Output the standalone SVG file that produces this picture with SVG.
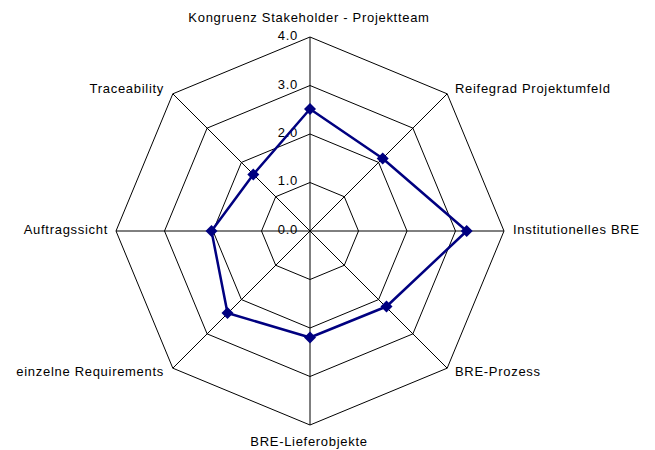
<svg xmlns="http://www.w3.org/2000/svg" width="655" height="450" viewBox="0 0 655 450">
<style>
.grid{fill:none;stroke:#000;stroke-width:1}
.ax{stroke:#000;stroke-width:1}
.ser{fill:none;stroke:#000080;stroke-width:2.5;stroke-linejoin:round}
.mk{fill:#000080}
text{font-family:"Liberation Sans",Arial,sans-serif;font-size:13px;fill:#000;letter-spacing:0.7px}
.tick{text-anchor:end}
</style>
<defs>
<polygon id="dia" points="0,-6 6,0 0,6 -6,0"/>
</defs>
<rect width="655" height="450" fill="#fff"/>
<g id="grid">
<polygon class="grid" points="310,182.5 344.29,196.71 358.5,231 344.29,265.29 310,279.5 275.71,265.29 261.5,231 275.71,196.71"/>
<polygon class="grid" points="310,134 378.59,162.41 407,231 378.59,299.59 310,328 241.41,299.59 213,231 241.41,162.41"/>
<polygon class="grid" points="310,85.5 412.88,128.12 455.5,231 412.88,333.88 310,376.5 207.12,333.88 164.5,231 207.12,128.12"/>
<polygon class="grid" points="310,37 447.18,93.82 504,231 447.18,368.18 310,425 172.82,368.18 116,231 172.82,93.82"/>
</g>
<g id="connectors">
<line class="ax" x1="310" y1="231" x2="310" y2="37"/>
<line class="ax" x1="310" y1="231" x2="447.18" y2="93.82"/>
<line class="ax" x1="310" y1="231" x2="504" y2="231"/>
<line class="ax" x1="310" y1="231" x2="447.18" y2="368.18"/>
<line class="ax" x1="310" y1="231" x2="310" y2="425"/>
<line class="ax" x1="310" y1="231" x2="172.82" y2="368.18"/>
<line class="ax" x1="310" y1="231" x2="116" y2="231"/>
<line class="ax" x1="310" y1="231" x2="172.82" y2="93.82"/>
</g>
<g id="ticks">
<text class="tick" x="298" y="40">4.0</text>
<text class="tick" x="298" y="89">3.0</text>
<text class="tick" x="298" y="137">2.0</text>
<text class="tick" x="298" y="185">1.0</text>
<text class="tick" x="298" y="234">0.0</text>
</g>
<g id="series">
<polygon class="ser" points="310,109 382.7,158.5 466.7,231 386.5,306.5 310,337.5 227.5,313 211.5,231 253.3,174.5"/>
<use href="#dia" class="mk" x="310" y="109"/>
<use href="#dia" class="mk" x="382.7" y="158.5"/>
<use href="#dia" class="mk" x="466.7" y="231"/>
<use href="#dia" class="mk" x="386.5" y="306.5"/>
<use href="#dia" class="mk" x="310" y="337.5"/>
<use href="#dia" class="mk" x="227.5" y="313"/>
<use href="#dia" class="mk" x="211.5" y="231"/>
<use href="#dia" class="mk" x="253.3" y="174.5"/>
</g>
<g id="label-kongruenz"><text x="309" y="22" text-anchor="middle">Kongruenz Stakeholder - Projektteam</text></g>
<g id="label-reifegrad"><text x="455" y="93">Reifegrad Projektumfeld</text></g>
<g id="label-institutionelles"><text x="513" y="234">Institutionelles BRE</text></g>
<g id="label-prozess"><text x="455" y="376">BRE-Prozess</text></g>
<g id="label-lieferobjekte"><text x="309" y="446" text-anchor="middle">BRE-Lieferobjekte</text></g>
<g id="label-requirements"><text x="164" y="376" text-anchor="end">einzelne Requirements</text></g>
<g id="label-auftragssicht"><text x="108" y="234" text-anchor="end">Auftragssicht</text></g>
<g id="label-traceability"><text x="164" y="93" text-anchor="end">Traceability</text></g>
</svg>
